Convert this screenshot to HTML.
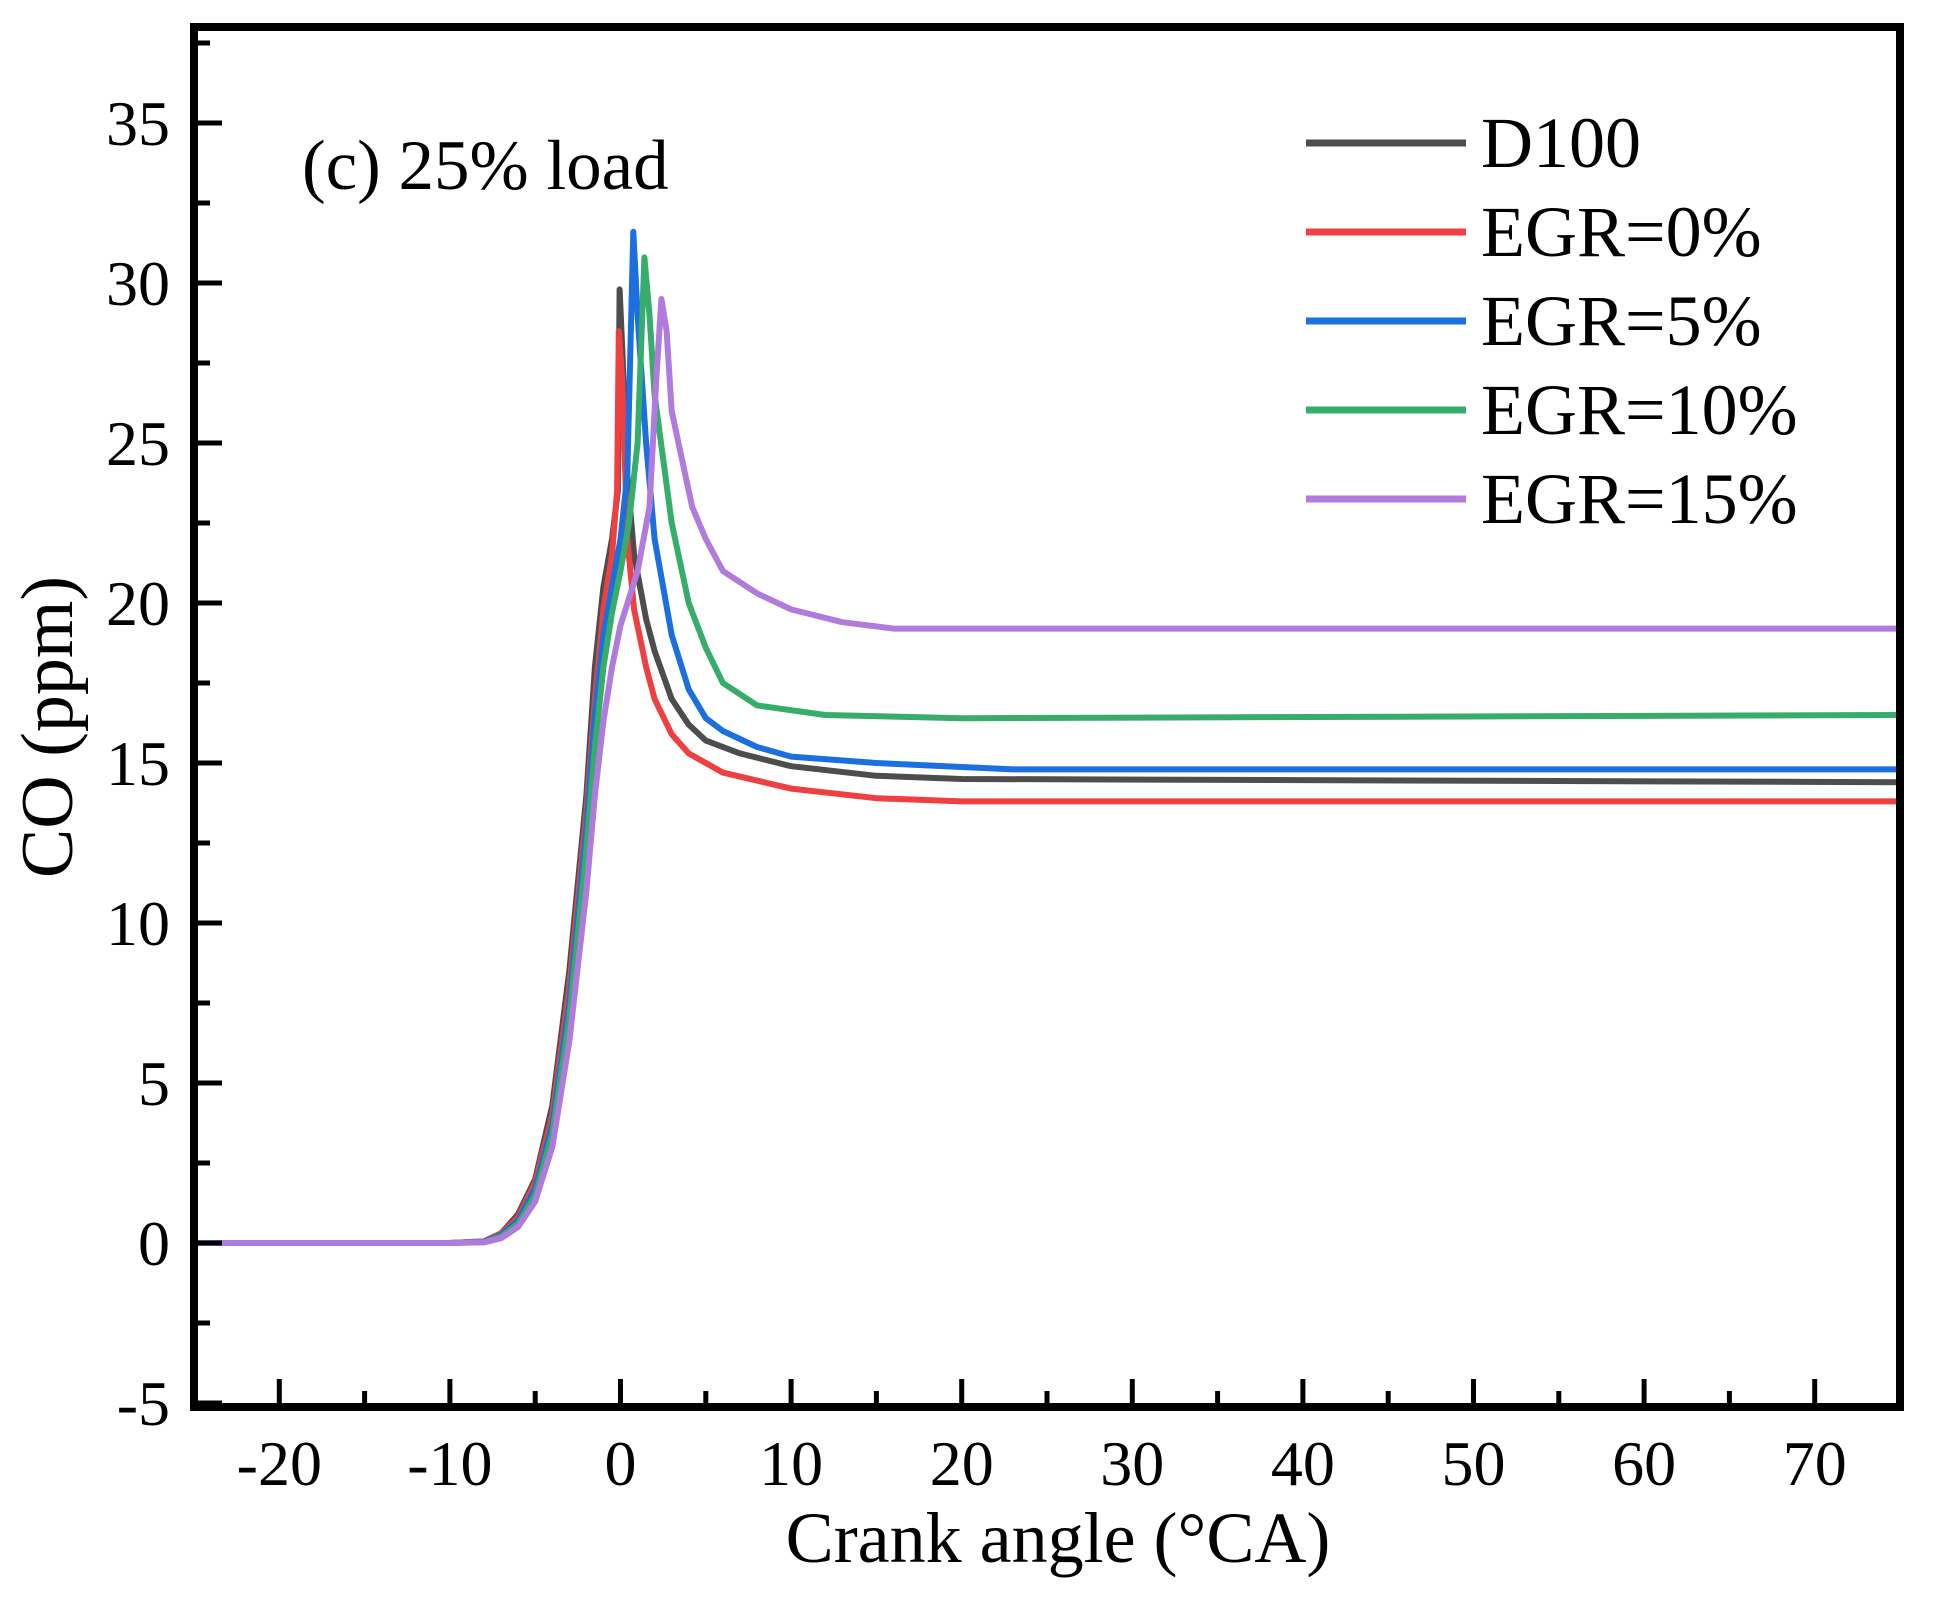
<!DOCTYPE html>
<html><head><meta charset="utf-8"><style>
html,body{margin:0;padding:0;background:#fff;}
svg{display:block;}
text{font-family:"Liberation Serif",serif;fill:#000;}
</style></head><body>
<svg id="s" width="1935" height="1597" viewBox="0 0 1935 1597" xmlns="http://www.w3.org/2000/svg">
<g id="curves" fill="none" stroke-width="6" stroke-linejoin="round"></g>
<rect x="194" y="27" width="1706" height="1380" fill="none" stroke="#000" stroke-width="8"/>
<g id="ticks" stroke="#000" stroke-width="5"></g>
<g id="labels" font-size="64"></g>
<text x="302" y="189" font-size="71">(c) 25% load</text>
<text x="1058" y="1562" font-size="72" text-anchor="middle">Crank angle (°CA)</text>
<text transform="translate(72,727) rotate(-90)" font-size="74" text-anchor="middle">CO (ppm)</text>
<g font-size="72">
<line x1="1306" y1="143" x2="1466" y2="143" stroke="#4d4d4d" stroke-width="7"/><text x="1481" y="167">D100</text>
<line x1="1306" y1="232" x2="1466" y2="232" stroke="#ee4040" stroke-width="7"/><text x="1481" y="256">EGR=0%</text>
<line x1="1306" y1="321" x2="1466" y2="321" stroke="#1c6fde" stroke-width="7"/><text x="1481" y="345">EGR=5%</text>
<line x1="1306" y1="410" x2="1466" y2="410" stroke="#36ad6b" stroke-width="7"/><text x="1481" y="434">EGR=10%</text>
<line x1="1306" y1="499" x2="1466" y2="499" stroke="#b07bdc" stroke-width="7"/><text x="1481" y="523">EGR=15%</text>
</g>
</svg>
<script>
const X=x=>194+(x+25)*17.06, Y=y=>1243-32*y;
const ns="http://www.w3.org/2000/svg";
let t=document.getElementById('ticks'),L=document.getElementById('labels');
function el(p,n,a,txt){let e=document.createElementNS(ns,n);for(let k in a)e.setAttribute(k,a[k]);if(txt!==undefined)e.textContent=txt;p.appendChild(e);}
for(let x=-20;x<=75;x+=5){let maj=x%10==0;el(t,'line',{x1:X(x),x2:X(x),y1:1403,y2:1403-(maj?24:12)});if(maj&&x<=70)el(L,'text',{x:X(x),y:1485,'text-anchor':'middle'},x);}
for(let y=-5;y<=37.5;y+=2.5){let maj=y%5==0;el(t,'line',{x1:198,x2:198+(maj?24:12),y1:Y(y),y2:Y(y)});if(maj)el(L,'text',{x:170,y:Y(y)+22,'text-anchor':'end'},y);}
const S=[
['#4d4d4d',[[-25,0],[-10,0],[-8,0.05],[-7,0.3],[-6,0.9],[-5,2],[-4,4.3],[-3,8.5],[-2,14],[-1.5,18],[-1,20.5],[-0.5,22],[-0.15,23.5],[-0.05,29.8],[0.1,28],[0.4,24],[0.8,21.5],[1.5,19.5],[2,18.5],[3,17],[4,16.2],[5,15.7],[7,15.3],[10,14.9],[15,14.6],[20,14.5],[75,14.4]]],
['#ee4040',[[-25,0],[-10,0],[-8,0.05],[-7,0.3],[-6,0.8],[-5,1.9],[-4,4],[-3,8],[-2,13.5],[-1.5,17],[-1,19.8],[-0.5,21.5],[-0.2,23.5],[-0.1,28.5],[0.1,27],[0.4,22],[0.8,19.8],[1.5,18],[2,17],[3,15.9],[4,15.3],[6,14.7],[10,14.2],[15,13.9],[20,13.8],[75,13.8]]],
['#1c6fde',[[-25,0],[-10,0],[-8,0.04],[-7,0.25],[-6,0.7],[-5,1.7],[-4,3.7],[-3,7.5],[-2,13],[-1.5,16.5],[-1,19],[-0.5,20.5],[0,22],[0.4,24],[0.75,31.6],[1,29],[1.5,25],[2,22],[3,19],[4,17.3],[5,16.4],[6,16],[8,15.5],[10,15.2],[15,15],[23,14.8],[75,14.8]]],
['#36ad6b',[[-25,0],[-10,0],[-8,0.03],[-7,0.2],[-6,0.6],[-5,1.5],[-4,3.4],[-3,7],[-2,12.3],[-1.5,15.5],[-1,18],[-0.5,19.7],[0,21],[0.5,22.5],[1,25],[1.4,30.8],[1.7,29],[2,26.5],[3,22.5],[4,20],[5,18.6],[6,17.5],[8,16.8],[12,16.5],[20,16.4],[75,16.5]]],
['#b07bdc',[[-25,0],[-10,0],[-8,0.02],[-7,0.15],[-6,0.5],[-5,1.3],[-4,3],[-3,6.3],[-2,11],[-1.5,14],[-1,16.3],[-0.5,18],[0,19.3],[1,21],[1.7,23],[2.1,27],[2.4,29.5],[2.7,28.5],[3,26],[3.6,24.5],[4.2,23],[5,22],[6,21],[8,20.3],[10,19.8],[13,19.4],[16,19.2],[75,19.2]]]];
let g=document.getElementById('curves');
S.forEach(([c,p])=>el(g,'polyline',{stroke:c,points:p.map(q=>X(q[0]).toFixed(1)+','+Y(q[1]).toFixed(1)).join(' ')}));
</script>
</body></html>
